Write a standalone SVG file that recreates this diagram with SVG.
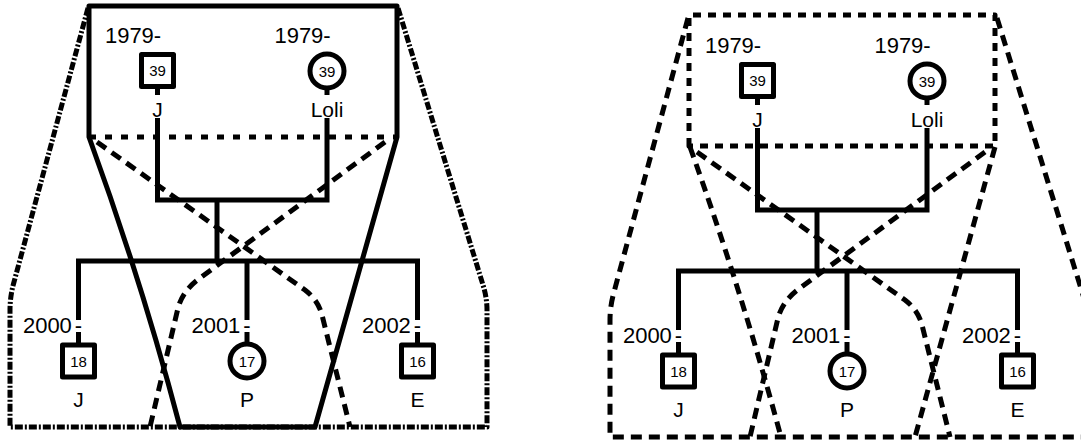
<svg xmlns="http://www.w3.org/2000/svg" width="1081" height="441" viewBox="0 0 1081 441">
  <defs>
    <style>
      .bg { fill: #ffffff; }
      .ln { fill: none; stroke: #000; stroke-width: 5; stroke-linejoin: miter; }
      .hh { fill: none; stroke: #000; stroke-width: 5; stroke-linejoin: round; }
      .dot { stroke-dasharray: 7 9; }
      .dash { stroke-dasharray: 11 7; }
      .dash2 { stroke-dasharray: 8 7; }
      .dashdot { stroke-dasharray: 8 2 2 2; }
      .sym { fill: #fff; stroke: #000; stroke-width: 5; stroke-linejoin: round; }
      .yr { font-family: "Liberation Sans", Arial, sans-serif; font-size: 22px; fill: #000; text-anchor: end; }
      .nm { font-family: "Liberation Sans", Arial, sans-serif; font-size: 21px; fill: #000; text-anchor: middle; }
      .age { font-family: "Liberation Sans", Arial, sans-serif; font-size: 15px; fill: #000; text-anchor: middle; }
    </style>
  </defs>

  <rect class="bg" x="0" y="0" width="1081" height="441"/>

  <!-- Households, first family view -->
  <g id="households-a">
    <!-- outer household (dash-dot) -->
    <path class="hh dashdot" d="M88,8 L14,282 Q10,296 10,310 L10,427 L487,427 L487,310 Q487,298 483,285 L398,8"/>
    <!-- crossing households (dashed) -->
    <path class="hh dash" d="M97,142 L305,290 Q318,300 322,315 L350,427"/>
    <path class="hh dash" d="M385,142 L200,278 Q183,290 178,308 L150,427"/>
    <!-- dotted divider under the couple -->
    <path class="hh dot" d="M89,137 L397,137"/>
    <!-- solid household -->
    <path class="hh" d="M89,137 L89,6 L397,6 L397,137 L315,427 L180,427 Q142,282 89,137 Z"/>
  </g>

  <!-- Households, second family view -->
  <g id="households-b">
    <path class="hh dash" d="M688,18 L614,292 Q610,306 610,320 L610,437 L1081,437"/>
    <path class="hh dash" d="M997,18 L1083,295 Q1087,308 1087,320 L1087,437"/>
    <path class="hh dash" d="M697,152 L905,300 Q918,310 922,325 L950,437"/>
    <path class="hh dash" d="M985,152 L800,288 Q783,300 778,318 L750,437"/>
    <path class="hh dash" d="M690,147 Q742,292 781,437"/>
    <path class="hh dash" d="M995,147 L915,437"/>
    <path class="hh dash2" d="M689,146 L689,15 L995,15 L995,146 Z"/>
  </g>

  <!-- Family lines -->
  <g id="connectors">
    <!-- first view -->
    <path class="ln" d="M157.5,89 V95 M157.5,118 V200 H327 V118 M327,90 V95"/>
    <path class="ln" d="M217,200 V261"/>
    <path class="ln" d="M78.5,320 V261 H417.5 V320 M247,261 V320"/>
    <path class="ln" d="M78.5,332 V345 M247,332 V344 M417.5,332 V345"/>
    <!-- second view -->
    <path class="ln" d="M757.5,99 V105 M757.5,128 V210 H927 V128 M927,100 V105"/>
    <path class="ln" d="M817,210 V271"/>
    <path class="ln" d="M678.5,330 V271 H1017.5 V330 M847,271 V330"/>
    <path class="ln" d="M678.5,342 V355 M847,342 V354 M1017.5,342 V355"/>
  </g>

  <!-- first view people -->
  <g id="a-father">
    <text class="yr" x="161.2" y="43">1979-</text>
    <rect class="sym" x="141.5" y="54.5" width="32" height="32"/>
    <text class="age" x="157.5" y="76">39</text>
    <text class="nm" x="157.5" y="117">J</text>
  </g>
  <g id="a-mother">
    <text class="yr" x="330.7" y="43">1979-</text>
    <circle class="sym" cx="327" cy="71" r="17"/>
    <text class="age" x="327" y="76.5">39</text>
    <text class="nm" x="327" y="117">Loli</text>
  </g>
  <g id="a-son-j">
    <text class="yr" x="82.2" y="333">2000<tspan dx="3">-</tspan></text>
    <rect class="sym" x="62.5" y="345" width="32" height="32"/>
    <text class="age" x="78.5" y="366.5">18</text>
    <text class="nm" x="78.5" y="407">J</text>
  </g>
  <g id="a-daughter-p">
    <text class="yr" x="250.7" y="333">2001<tspan dx="3">-</tspan></text>
    <circle class="sym" cx="247" cy="361" r="17"/>
    <text class="age" x="247" y="366.5">17</text>
    <text class="nm" x="247" y="407">P</text>
  </g>
  <g id="a-son-e">
    <text class="yr" x="421.2" y="333">2002<tspan dx="3">-</tspan></text>
    <rect class="sym" x="401.5" y="345" width="32" height="32"/>
    <text class="age" x="417.5" y="366.5">16</text>
    <text class="nm" x="417.5" y="407">E</text>
  </g>

  <!-- second view people -->
  <g id="b-father">
    <text class="yr" x="761.2" y="53">1979-</text>
    <rect class="sym" x="741.5" y="64.5" width="32" height="32"/>
    <text class="age" x="757.5" y="86">39</text>
    <text class="nm" x="757.5" y="127">J</text>
  </g>
  <g id="b-mother">
    <text class="yr" x="930.7" y="53">1979-</text>
    <circle class="sym" cx="927" cy="81" r="17"/>
    <text class="age" x="927" y="86.5">39</text>
    <text class="nm" x="927" y="127">Loli</text>
  </g>
  <g id="b-son-j">
    <text class="yr" x="682.2" y="343">2000<tspan dx="3">-</tspan></text>
    <rect class="sym" x="662.5" y="355" width="32" height="32"/>
    <text class="age" x="678.5" y="376.5">18</text>
    <text class="nm" x="678.5" y="417">J</text>
  </g>
  <g id="b-daughter-p">
    <text class="yr" x="850.7" y="343">2001<tspan dx="3">-</tspan></text>
    <circle class="sym" cx="847" cy="371" r="17"/>
    <text class="age" x="847" y="376.5">17</text>
    <text class="nm" x="847" y="417">P</text>
  </g>
  <g id="b-son-e">
    <text class="yr" x="1021.2" y="343">2002<tspan dx="3">-</tspan></text>
    <rect class="sym" x="1001.5" y="355" width="32" height="32"/>
    <text class="age" x="1017.5" y="376.5">16</text>
    <text class="nm" x="1017.5" y="417">E</text>
  </g>
</svg>
